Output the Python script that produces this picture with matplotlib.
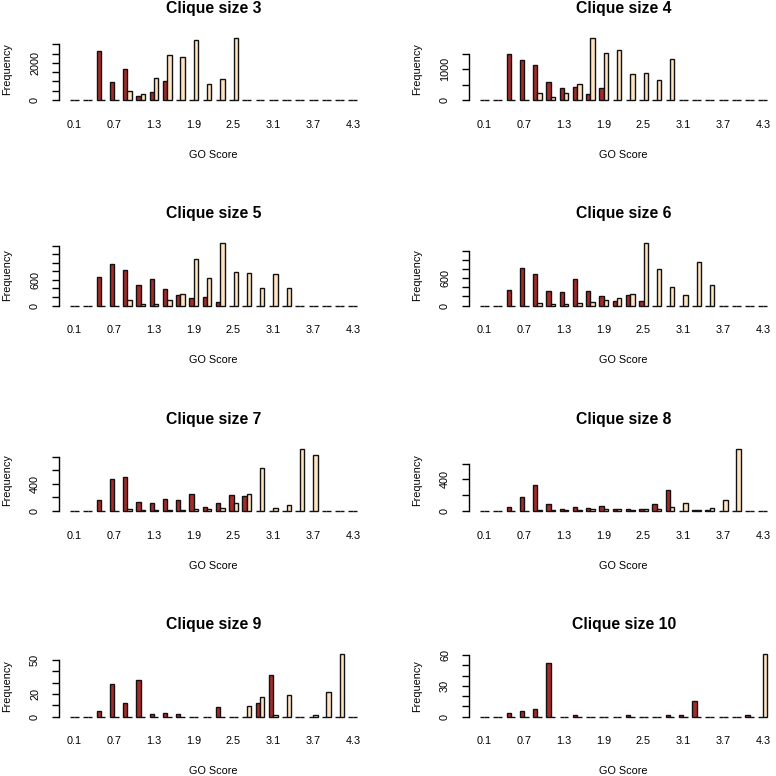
import matplotlib
matplotlib.use('Agg')
import matplotlib.pyplot as plt

plt.rcParams['font.family'] = ['Liberation Sans', 'DejaVu Sans']

# GO score bins (22 groups, R barplot beside=TRUE)
go_scores = ['0.1', '0.3', '0.5', '0.7', '0.9', '1.1', '1.3', '1.5', '1.7', '1.9', '2.1',
             '2.3', '2.5', '2.7', '2.9', '3.1', '3.3', '3.5', '3.7', '3.9', '4.1', '4.3']
clique_sizes = [3, 4, 5, 6, 7, 8, 9, 10]

# dark red series
red_3 = [0, 0, 2640, 950, 1680, 230, 410, 1000, 0, 0, 0, 0, 0, 0, 0, 0, 0, 0, 0, 0, 0, 0]
red_4 = [0, 0, 1480, 1300, 1135, 580, 375, 420, 195, 375, 0, 0, 0, 0, 0, 0, 0, 0, 0, 0, 0, 0]
red_5 = [0, 0, 675, 965, 840, 470, 620, 390, 245, 165, 205, 85, 0, 0, 0, 0, 0, 0, 0, 0, 0, 0]
red_6 = [0, 0, 350, 820, 690, 315, 292, 595, 315, 210, 90, 225, 90, 0, 0, 0, 0, 0, 0, 0, 0, 0]
red_7 = [0, 0, 160, 470, 505, 130, 120, 175, 160, 250, 65, 120, 235, 225, 0, 0, 0, 0, 0, 0, 0, 0]
red_8 = [0, 0, 51, 174, 332, 94, 26, 55, 43, 68, 30, 30, 21, 85, 264, 0, 13, 9, 0, 0, 0, 0]
red_9 = [0, 0, 5, 29, 12, 32, 2, 3, 2, 0, 0, 8, 0, 0, 12, 37, 0, 0, 0, 0, 0, 0]
red_10 = [0, 0, 3, 5, 7, 52, 0, 1, 0, 0, 0, 1, 0, 0, 1, 1, 15, 0, 0, 0, 1, 0]

# bisque series
tan_3 = [0, 0, 0, 0, 500, 320, 1200, 2410, 2320, 3230, 840, 1140, 3360, 0, 0, 0, 0, 0, 0, 0, 0, 0]
tan_4 = [0, 0, 0, 0, 236, 86, 214, 525, 2013, 1510, 1606, 824, 878, 632, 1328, 0, 0, 0, 0, 0, 0, 0]
tan_5 = [0, 0, 0, 0, 118, 31, 39, 133, 275, 1082, 635, 1459, 792, 769, 416, 745, 416, 0, 0, 0, 0, 0]
tan_6 = [0, 0, 0, 0, 52, 30, 30, 52, 75, 112, 172, 255, 1380, 801, 404, 225, 959, 464, 0, 0, 0, 0]
tan_7 = [0, 0, 0, 0, 25, 10, 10, 20, 15, 30, 25, 46, 116, 248, 625, 51, 86, 915, 825, 0, 0, 0]
tan_8 = [0, 0, 0, 0, 13, 13, 9, 17, 21, 26, 21, 17, 21, 21, 55, 102, 9, 38, 136, 790, 0, 0]
tan_9 = [0, 0, 0, 0, 0, 0, 0, 0, 0, 0, 0, 0, 0, 9, 17, 1, 19, 0, 1, 22, 55, 0]
tan_10 = [0, 0, 0, 0, 0, 0, 0, 0, 0, 0, 0, 0, 0, 0, 0, 0, 0, 0, 0, 0, 0, 61]

# y axis ticks and the labels R kept
yticks = {3: (range(0, 3001, 500), ['0', '', '', '', '2000', '', '']),
          4: (range(0, 1501, 500), ['0', '', '1000', '']),
          5: (range(0, 1401, 200), ['0', '', '', '600', '', '', '', '']),
          6: (range(0, 1201, 200), ['0', '', '', '600', '', '', '']),
          7: (range(0, 801, 200), ['0', '', '400', '', '']),
          8: (range(0, 601, 200), ['0', '', '400', '']),
          9: (range(0, 51, 10), ['0', '', '20', '', '', '50']),
          10: (range(0, 61, 10), ['0', '', '', '30', '', '', '60'])}

reds = [red_3, red_4, red_5, red_6, red_7, red_8, red_9, red_10]
tans = [tan_3, tan_4, tan_5, tan_6, tan_7, tan_8, tan_9, tan_10]

W = H = 776
fig = plt.figure(figsize=(W / 100, H / 100), dpi=100)

n = len(go_scores)
unit = 4.42  # px per bar width
for i, size in enumerate(clique_sizes):
    row, col = i // 2, i % 2
    base = 100 + 205.5 * row
    left = 58.5 + 410 * col
    top = base - 64.85
    ax = fig.add_axes([left / W, 1 - (top + 68) / H, 70.2 * unit / W, 68 / H])

    red, tan = reds[i], tans[i]
    xr = [3 * g + 1 for g in range(n)]
    xt = [3 * g + 2 for g in range(n)]
    ax.bar(xr, red, width=1, align='edge', color='#A52A2A', edgecolor='#111111', linewidth=1.0)
    ax.bar(xt, tan, width=1, align='edge', color='#FFE4C4', edgecolor='#111111', linewidth=1.0)

    m = max(max(red), max(tan))
    ax.set_xlim(1 - 0.04 * 65, 66 + 0.04 * 65)
    ax.set_ylim(-0.01 * m - 0.04 * 1.01 * m, m + 0.04 * 1.01 * m)

    for s in ['top', 'right', 'bottom']:
        ax.spines[s].set_visible(False)
    ticks, labs = yticks[size]
    ticks = list(ticks)
    ax.spines['left'].set_bounds(0, ticks[-1])
    ax.spines['left'].set_linewidth(1.0)
    ax.set_yticks(ticks)
    ax.set_yticklabels(labs, rotation=90, ha='center', va='center', fontsize=7.8)
    ax.tick_params(axis='y', length=5, width=1.0, pad=11.9)

    centers = [3 * g + 2 for g in range(0, n, 3)]
    ax.set_xticks(centers)
    ax.set_xticklabels(go_scores[::3], va='center', fontsize=7.8)
    ax.tick_params(axis='x', length=0, pad=15.7)

    ax.annotate('Clique size %d' % size, xy=(0.5, 1), xycoords='axes fraction',
                xytext=(0, 19.5), textcoords='offset points', ha='center', va='center',
                fontsize=11.3, fontweight='bold')
    ax.annotate('GO Score', xy=(0.5, 0), xycoords='axes fraction',
                xytext=(0, -37.3), textcoords='offset points', ha='center', va='center',
                fontsize=7.8)
    ax.annotate('Frequency', xy=(0, 0.5), xycoords='axes fraction',
                xytext=(-36.7, 0), textcoords='offset points', ha='center', va='center',
                rotation=90, fontsize=7.8)

fig.savefig('out.png', dpi=100)
